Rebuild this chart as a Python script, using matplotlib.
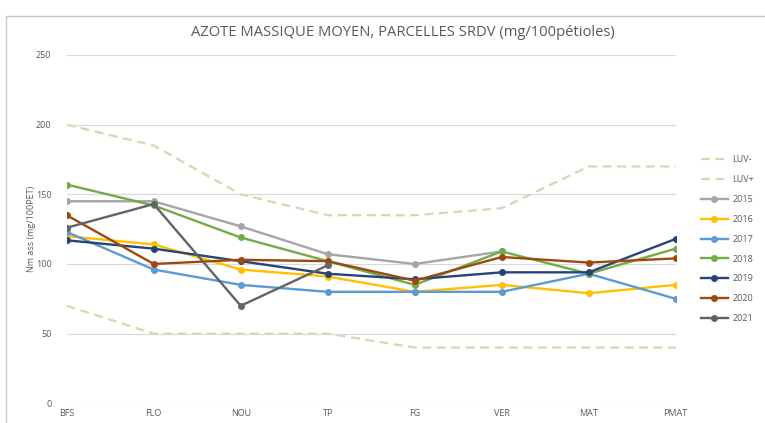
import numpy as np
import matplotlib
matplotlib.use("Agg")
import matplotlib.pyplot as plt
from matplotlib.patches import Rectangle

categories = ["BFS", "FLO", "NOU", "TP", "FG", "VER", "MAT", "PMAT"]
luv_minus = [70, 50, 50, 50, 40, 40, 40, 40]
luv_plus = [200, 185, 150, 135, 135, 140, 170, 170]
y2015 = [145, 145, 127, 107, 100, 109, None, None]
y2016 = [120, 114, 96, 91, 80, 85, 79, 85]
y2017 = [123, 96, 85, 80, 80, 80, 93, 75]
y2018 = [157, 142, 119, 102, 85, 109, 93, 111]
y2019 = [117, 111, 102, 93, 89, 94, 94, 118]
y2020 = [135, 100, 103, 102, 88, 105, 101, 104]
y2021 = [126, 143, 70, 99, None, None, None, None]
yticks = [0, 50, 100, 150, 200, 250]

plt.rcParams['font.family'] = ['Open Sans', 'DejaVu Sans']

fig = plt.figure(figsize=(7.65, 4.23), dpi=100)
ax = fig.add_axes([0.0872, 0.0466, 0.7961, 0.8234])

# chart frame
fig.patches.append(Rectangle((6/765, -0.1), 1.0, 1 - 16/423 + 0.1, transform=fig.transFigure,
                             fill=False, edgecolor="#c8c8c8", lw=1.0))

x = np.arange(len(categories))
luv_col = "#c5dfb3"
ax.plot(x, luv_minus, color=luv_col, lw=1.6, ls=(0, (4, 2.5)), label="LUV-", zorder=2)
ax.plot(x, luv_plus, color=luv_col, lw=1.6, ls=(0, (4, 2.5)), label="LUV+", zorder=2)

series = [("2015", y2015, "#a5a5a5"), ("2016", y2016, "#ffc000"), ("2017", y2017, "#5b9bd5"),
          ("2018", y2018, "#70ad47"), ("2019", y2019, "#264478"), ("2020", y2020, "#9e480e"),
          ("2021", y2021, "#636363")]
for name, vals, col in series:
    v = np.array([np.nan if a is None else a for a in vals], dtype=float)
    ax.plot(x, v, color=col, lw=1.7, marker="o", ms=4, label=name, zorder=3)

ax.set_xlim(0, len(categories) - 1)
ax.set_ylim(0, 250)
ax.set_yticks(yticks)
ax.set_xticks(x)
ax.set_xticklabels(categories)
ax.grid(axis="y", color="#d9d9d9", lw=0.8)
ax.set_axisbelow(True)
for s in ax.spines.values():
    s.set_visible(False)
ax.tick_params(length=0, labelsize=6.5, colors="#595959")
ax.tick_params(axis="y", pad=11)
ax.tick_params(axis="x", pad=4)
ax.set_ylabel("Nm ass (mg/100PET)", fontsize=6.5, color="#595959", labelpad=0)

fig.text(0.527, 1 - 33/423, "AZOTE MASSIQUE MOYEN, PARCELLES SRDV (mg/100pétioles)",
         ha="center", va="center", fontsize=10.6, color="#595959")

leg = ax.legend(loc="upper left", bbox_to_anchor=(1.035, 0.722), frameon=False,
                fontsize=6.5, labelspacing=1.2, handlelength=3.0, handletextpad=0.5,
                borderaxespad=0)
for t in leg.get_texts():
    t.set_color("#595959")

fig.savefig("out.png", dpi=100)
